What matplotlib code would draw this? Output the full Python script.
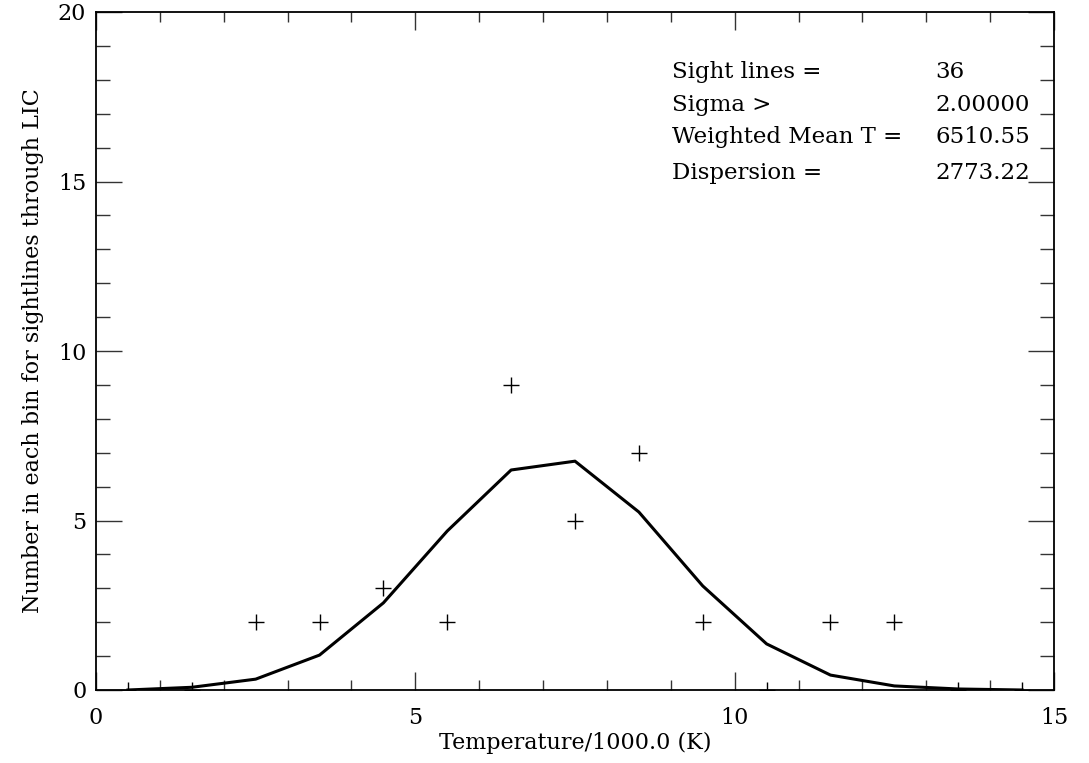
import matplotlib
matplotlib.use('Agg')
import matplotlib.pyplot as plt
from matplotlib.ticker import MultipleLocator

plt.rcParams['font.family'] = ['DejaVu Serif']

# bin centres (Temperature / 1000 K)
bin_centres = [0.5, 1.5, 2.5, 3.5, 4.5, 5.5, 6.5, 7.5, 8.5, 9.5, 10.5, 11.5, 12.5, 13.5, 14.5]
# observed counts per bin (plus signs)
counts = [0, 0, 2, 2, 3, 2, 9, 5, 7, 2, 0, 2, 2, 0, 0]
# fitted curve
fit_vals = [0.0, 0.08, 0.32, 1.03, 2.57, 4.69, 6.49, 6.75, 5.25, 3.07, 1.36, 0.44, 0.12, 0.03, 0.0]

info_labels = ['Sight lines =', 'Sigma >', 'Weighted Mean T =', 'Dispersion =']
info_values = ['36', '2.00000', '6510.55', '2773.22']

fig = plt.figure(figsize=(10.89, 7.63), dpi=100)
ax = fig.add_axes([96/1089, 73/763, (1054-96)/1089, (690-12)/763])

ax.plot(bin_centres, fit_vals, color='black', linewidth=2.2)
ax.plot(bin_centres, counts, linestyle='none', marker='+', color='black',
        markersize=11, markeredgewidth=1.0)

ax.set_xlim(0, 15)
ax.set_ylim(0, 20)
ax.xaxis.set_major_locator(MultipleLocator(5))
ax.xaxis.set_minor_locator(MultipleLocator(1))
ax.yaxis.set_major_locator(MultipleLocator(5))
ax.yaxis.set_minor_locator(MultipleLocator(1))
ax.tick_params(which='both', direction='in', top=True, right=True, color='#333333',
               width=1.0, labelsize=16)
ax.tick_params(axis='x', which='major', length=13, pad=12)
ax.tick_params(axis='x', which='minor', length=7)
ax.tick_params(axis='y', which='major', length=19, pad=7)
ax.tick_params(axis='y', which='minor', length=10)
for s in ax.spines.values():
    s.set_linewidth(1.3)

ax.set_xlabel('Temperature/1000.0 (K)', fontsize=16, labelpad=2)
ax.set_ylabel('Number in each bin for sightlines through LIC', fontsize=16, labelpad=10)

ys = [18.23, 17.26, 16.31, 15.25]
for lab, val, y in zip(info_labels, info_values, ys):
    ax.text(9.02, y, lab, fontsize=16.5, va='center', ha='left')
    ax.text(13.14, y, val, fontsize=16.5, va='center', ha='left')

fig.savefig('out.png', dpi=100)
